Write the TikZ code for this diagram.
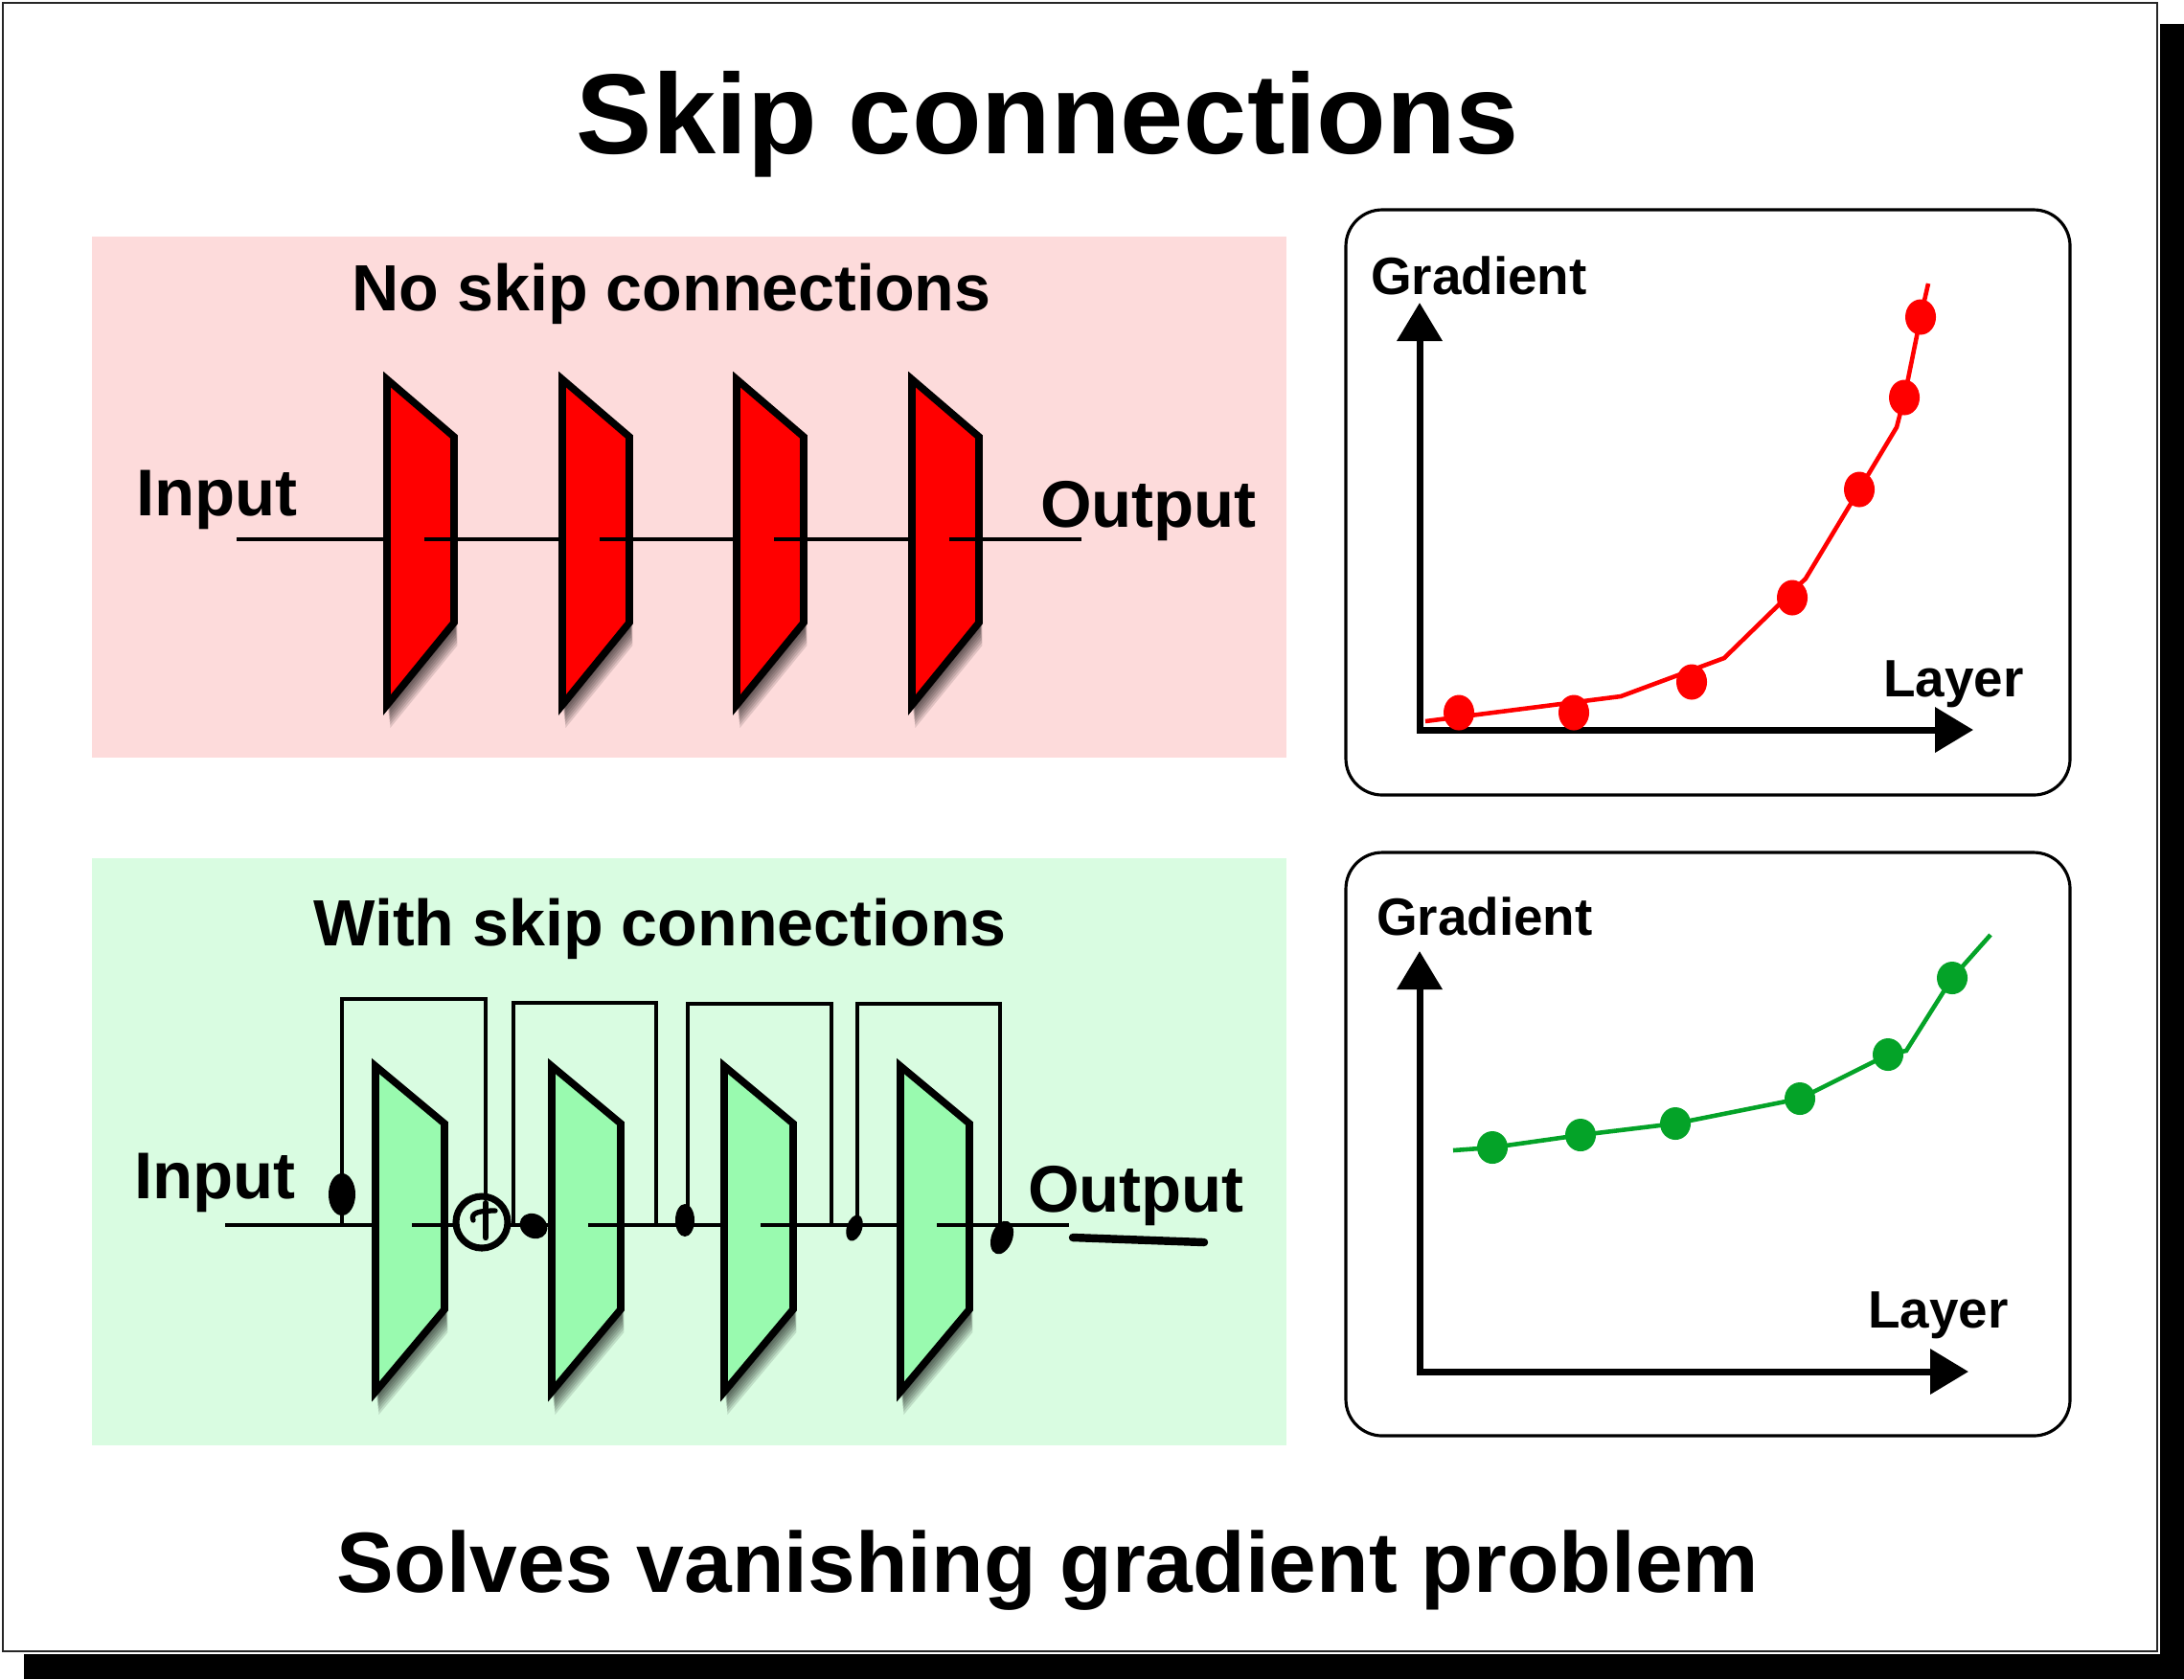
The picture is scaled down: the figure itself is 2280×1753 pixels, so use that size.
\documentclass[tikz,border=0pt]{standalone}
\usepackage{fontspec}
\setmainfont{Liberation Sans}
\usetikzlibrary{arrows.meta}
\definecolor{pinkbg}{RGB}{253,219,219}
\definecolor{greenbg}{RGB}{217,252,225}
\definecolor{trapred}{RGB}{255,0,0}
\definecolor{trapgreen}{RGB}{153,250,175}
\definecolor{curvered}{RGB}{255,0,0}
\definecolor{curvegreen}{RGB}{4,163,40}
\tikzset{
 txt/.style={inner sep=0pt, outer sep=0pt},
 bigtitle/.style={txt, font=\fontsize{33.8pt}{38pt}\selectfont\bfseries, anchor=base},
 subtitle/.style={txt, font=\fontsize{25.4pt}{30pt}\selectfont\bfseries, anchor=base},
 sectitle/.style={txt, font=\fontsize{19.4pt}{23pt}\selectfont\bfseries, anchor=base},
 iolabel/.style={txt, font=\fontsize{19.6pt}{23pt}\selectfont\bfseries, anchor=base west},
 axlabel/.style={txt, font=\fontsize{15.6pt}{19pt}\selectfont\bfseries, anchor=base west},
 layerbox/.style={line width=2.15pt, draw=black},
 redlayer/.style={layerbox, fill=trapred},
 greenlayer/.style={layerbox, fill=trapgreen},
 shadowlayer/.style={fill=black, opacity=0.12},
 mainline/.style={line width=1.1pt, draw=black},
 skipline/.style={line width=0.95pt, draw=black},
 blob/.style={fill=black},
 graphbox/.style={draw=black, line width=0.9pt, rounded corners=0.38cm},
 axisarrow/.style={draw=black, line width=2pt, -{Triangle[length=0.4cm, width=0.46cm]}},
 redcurve/.style={draw=curvered, line width=1.3pt},
 greencurve/.style={draw=curvegreen, line width=1.3pt},
}
\newcommand\layershape[3]{% left x, top y, width
  (#1,#2) -- ++(#3,60) -- ++(0,194) -- ++(-#3,86) -- cycle}
\begin{document}
\begin{tikzpicture}[x=0.01cm,y=-0.01cm]
\useasboundingbox (0,0) rectangle (2280,1753);
% frame with shadow
\fill[white] (0,0) rectangle (2280,1753);
\fill[black] (25,25) rectangle (2280,1753);
\fill[white] (0,0) rectangle (2255,1727);
\draw[black!85, line width=0.7pt] (3,3) rectangle (2252,1724);

% titles
\node[bigtitle] (title) at (1094,160) {Skip connections};
\node[subtitle] (bottomtitle) at (1094,1662) {Solves vanishing gradient problem};

% panels
\fill[pinkbg] (96,247) rectangle (1343,791);
\fill[greenbg] (96,896) rectangle (1343,1509);
\node[sectitle] (nsc) at (701,324) {No skip connections};
\node[sectitle] (wsc) at (689,987) {With skip connections};

% ---------- no skip connections ----------
\foreach \i/\x in {1/404,2/587,3/769,4/952}{
  \foreach \k in {0,...,6}{
    \fill[shadowlayer, shift={(1+0.4*\k,6+3*\k)}] \layershape{\x}{396}{70};
  }
  \path[redlayer] \layershape{\x}{396}{70};
  \coordinate (r\i) at (\x,563);
  \coordinate (r\i o) at (\x+39,563);
}
\coordinate (rin) at (247,563);
\coordinate (rout) at (1129,563);
\draw[mainline] (rin) -- (r1);
\draw[mainline] (r1o) -- (r2);
\draw[mainline] (r2o) -- (r3);
\draw[mainline] (r3o) -- (r4);
\draw[mainline] (r4o) -- (rout);
\node[iolabel] (rinlabel) at (142,538) {Input};
\node[iolabel] (routlabel) at (1086,550) {Output};

% ---------- with skip connections ----------
\foreach \i/\x in {1/392,2/576,3/756,4/940}{
  \foreach \k in {0,...,6}{
    \fill[shadowlayer, shift={(1+0.4*\k,6+3*\k)}] \layershape{\x}{1113}{72};
  }
  \path[greenlayer] \layershape{\x}{1113}{72};
  \coordinate (g\i) at (\x,1279);
  \coordinate (g\i o) at (\x+38,1279);
}
\coordinate (gin) at (235,1279);
\coordinate (gout) at (1116,1279);
\node[circle, draw=black, line width=2pt, minimum size=0.54cm, inner sep=0pt] (plus) at (503,1276) {};
\coordinate (pw) at (476,1279);
\coordinate (pe) at (530,1279);
\draw[mainline] (gin) -- (g1);
\draw[mainline] (g1o) -- (pw);
\draw[mainline] (pe) -- (g2);
\draw[mainline] (g2o) -- (g3);
\draw[mainline] (g3o) -- (g4);
\draw[mainline] (g4o) -- (gout);
% handwritten plus
\draw[line width=1.8pt, line cap=round] (507,1256) -- (507,1292);
\draw[line width=1.5pt, line cap=round] (494,1274) .. controls (491,1266) and (500,1264) .. (517,1264);

% skip loops
\coordinate (s1a) at (357,1279); \coordinate (s1b) at (507,1252);
\coordinate (s2a) at (536,1279); \coordinate (s2b) at (685,1279);
\coordinate (s3a) at (718,1279); \coordinate (s3b) at (868,1279);
\coordinate (s4a) at (895,1279); \coordinate (s4b) at (1044,1279);
\draw[skipline] (s1a) -- (357,1043) -- (507,1043) -- (s1b);
\draw[skipline] (s2a) -- (536,1047) -- (685,1047) -- (s2b);
\draw[skipline] (s3a) -- (718,1048) -- (868,1048) -- (s3b);
\draw[skipline] (s4a) -- (895,1048) -- (1044,1048) -- (s4b);

% hand-drawn blobs
\fill[blob] (357,1247) ellipse [x radius=0.14cm, y radius=0.22cm];
\fill[blob, rotate around={-30:(557,1280)}] (557,1280) ellipse [x radius=0.15cm, y radius=0.125cm];
\fill[blob] (715,1274) ellipse [x radius=0.10cm, y radius=0.17cm];
\fill[blob, rotate around={-18:(892,1282)}] (892,1282) ellipse [x radius=0.08cm, y radius=0.14cm];
\fill[blob, rotate around={-20:(1046,1292)}] (1046,1292) ellipse [x radius=0.11cm, y radius=0.18cm];

\node[iolabel] (ginlabel) at (140,1251) {Input};
\node[iolabel] (goutlabel) at (1073,1265) {Output};
\coordinate (ulA) at (1120,1292);
\coordinate (ulB) at (1257,1297);
\draw[line width=2.4pt, line cap=round] (ulA) -- (ulB);

% ---------- top graph ----------
\draw[graphbox] (1405,219) rectangle (2161,830);
\coordinate (t0) at (1482,762);
\coordinate (ty) at (1482,316);
\coordinate (tx) at (2060,762);
\draw[axisarrow] (1482,765) -- (ty);
\draw[axisarrow] (1479,762) -- (tx);
\node[axlabel] (tgrad) at (1431,307) {Gradient};
\node[axlabel] (tlayer) at (1966,727) {Layer};
\draw[redcurve] (1488,753) -- (1692,727) -- (1800,687) -- (1885,604) -- (1941,511) -- (1980,446) -- (1988,415) -- (2005,331) -- (2013,296);
\foreach \p in {(1523,744),(1643,744),(1766,712),(1871,624),(1941,511),(1988,415),(2005,331)}{
  \fill[curvered] \p ellipse [x radius=0.16cm, y radius=0.185cm];
}

% ---------- bottom graph ----------
\draw[graphbox] (1405,890) rectangle (2161,1499);
\coordinate (b0) at (1482,1432);
\coordinate (by) at (1482,993);
\coordinate (bx) at (2055,1432);
\draw[axisarrow] (1482,1435) -- (by);
\draw[axisarrow] (1479,1432) -- (bx);
\node[axlabel] (bgrad) at (1437,976) {Gradient};
\node[axlabel] (blayer) at (1950,1386) {Layer};
\draw[greencurve] (1517,1201) -- (1558,1198) -- (1650,1185) -- (1749,1173) -- (1879,1147) -- (1971,1101) -- (1990,1097) -- (2038,1021) -- (2078,976);
\foreach \p in {(1558,1198),(1650,1185),(1749,1173),(1879,1147),(1971,1101),(2038,1021)}{
  \fill[curvegreen] \p ellipse [x radius=0.16cm, y radius=0.17cm];
}
\end{tikzpicture}
\end{document}
